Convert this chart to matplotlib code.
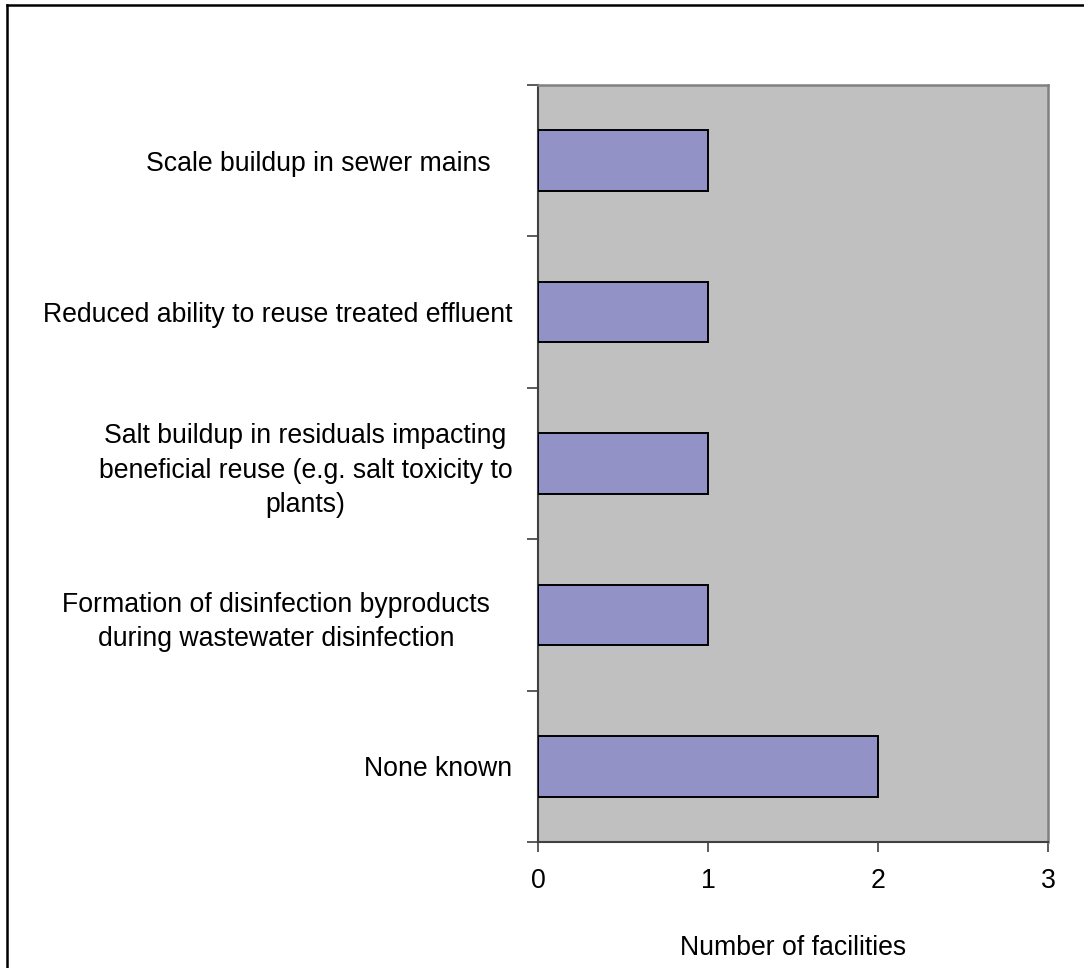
import matplotlib
matplotlib.use("Agg")
import matplotlib.pyplot as plt
from matplotlib.lines import Line2D
from matplotlib.transforms import ScaledTranslation

# Chart data (top to bottom, as shown)
categories = [
    "Scale buildup in sewer mains",
    "Reduced ability to reuse treated effluent",
    "Salt buildup in residuals impacting\nbeneficial reuse (e.g. salt toxicity to\nplants)",
    "Formation of disinfection byproducts\nduring wastewater disinfection",
    "None known",
]
facilities = [1, 1, 1, 1, 2]
x_ticks = [0, 1, 2, 3]
x_label = "Number of facilities"

plt.rcParams['font.family'] = ['Liberation Sans', 'DejaVu Sans']

W, H, DPI = 1084, 968, 100
FS = 19.2
fig = plt.figure(figsize=(W / DPI, H / DPI), dpi=DPI)
fig.patch.set_facecolor('white')

ax = fig.add_axes([538 / W, 1 - 842 / H, (1048 - 538) / W, (842 - 85) / H])
ax.set_facecolor('#C0C0C0')

ypos = list(range(len(categories)))
ax.barh(ypos, facilities, height=0.4, color='#9292C6', edgecolor='black',
        linewidth=1.4, zorder=3)

ax.set_xlim(0, 3)
ax.set_ylim(len(categories) - 0.5, -0.5)

# major ticks at category boundaries, labels on minor ticks at centres
ax.set_yticks([i - 0.5 for i in range(len(categories) + 1)])
ax.set_yticklabels([])
ax.set_yticks(ypos, minor=True)
ax.set_yticklabels(categories, minor=True, fontsize=FS, ha='right',
                   multialignment='center', linespacing=1.42)
ax.tick_params(axis='y', which='minor', length=0, pad=18.5)
ax.tick_params(axis='y', which='major', length=8, width=1.2, color='#404040')

ax.set_xticks(x_ticks)
ax.set_xticklabels([str(t) for t in x_ticks], fontsize=FS)
ax.tick_params(axis='x', length=7, width=1.2, color='#404040', pad=11.5)
ax.set_xlabel(x_label, fontsize=FS, labelpad=29.5)

# Excel centres some wrapped labels in a narrower box
for lbl in ax.get_yticklabels(minor=True):
    if lbl.get_text().startswith(("Scale", "Formation")):
        lbl.set_transform(lbl.get_transform() +
                          ScaledTranslation(-22 / DPI, 0, fig.dpi_scale_trans))

for side in ['left', 'bottom']:
    ax.spines[side].set_color('#404040')
    ax.spines[side].set_linewidth(1.5)
for side in ['top', 'right']:
    ax.spines[side].set_color('#808080')
    ax.spines[side].set_linewidth(1.8)

# chart frame (only top and left edges visible in the crop)
fig.add_artist(Line2D([7 / W, 1], [1 - 5 / H, 1 - 5 / H], transform=fig.transFigure,
                      color='black', linewidth=1.8))
fig.add_artist(Line2D([7 / W, 7 / W], [0, 1 - 5 / H], transform=fig.transFigure,
                      color='black', linewidth=1.8))

fig.savefig("out.png", dpi=DPI)
